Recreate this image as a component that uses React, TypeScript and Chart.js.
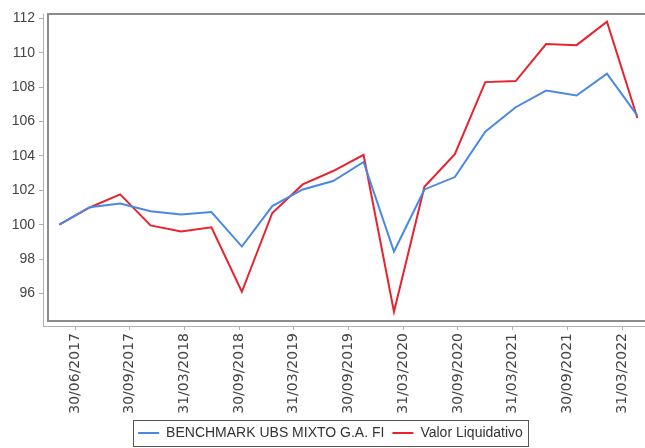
import React, { useEffect, useRef } from 'react';
import { Chart, registerables } from 'chart.js';

Chart.register(...registerables);

// Quarter-end dates of the data points
const quarters = [
  '30/06/2017', '30/09/2017', '31/12/2017', '31/03/2018', '30/06/2018',
  '30/09/2018', '31/12/2018', '31/03/2019', '30/06/2019', '30/09/2019',
  '31/12/2019', '31/03/2020', '30/06/2020', '30/09/2020', '31/12/2020',
  '31/03/2021', '30/06/2021', '30/09/2021', '31/12/2021', '31/03/2022',
];

const benchmark = [
  100.0, 101.02, 101.23, 100.78, 100.59, 100.74, 98.73, 101.08, 102.05, 102.54,
  103.65, 98.44, 102.05, 102.77, 105.41, 106.83, 107.8, 107.51, 108.78, 106.34,
];

const valorLiquidativo = [
  100.0, 101.0, 101.76, 99.96, 99.61, 99.85, 96.1, 100.68, 102.34, 103.12,
  104.06, 94.94, 102.2, 104.1, 108.29, 108.35, 110.5, 110.44, 111.8, 106.2,
];

// Axis tick labels as printed under the chart
const axisLabels = [
  '30/06/2017', '30/09/2017', '31/03/2018', '30/09/2018', '31/03/2019',
  '30/09/2019', '31/03/2020', '30/09/2020', '31/03/2021', '30/09/2021', '31/03/2022',
];

const yTicks = [96, 98, 100, 102, 104, 106, 108, 110, 112];

const seriesNames = ['BENCHMARK UBS MIXTO G.A. FI', 'Valor Liquidativo'];

const FONT = 'Liberation Sans, Arial, sans-serif';
const XFONT = 'DejaVu Sans, sans-serif';

const LEGEND_DX = 8;
const LEGEND_DY = 2;

const plotFrame = {
  id: 'plotFrame',
  afterUpdate(chart: any) {
    const lg = chart.legend;
    if (!lg) return;
    lg.left += LEGEND_DX;
    lg.right += LEGEND_DX;
    lg.top += LEGEND_DY;
    lg.bottom += LEGEND_DY;
    (lg.legendHitBoxes || []).forEach((h: any) => {
      h.left += LEGEND_DX;
      h.top += LEGEND_DY;
    });
  },
  afterDraw(chart: any) {
    const { ctx, chartArea } = chart;
    ctx.save();
    ctx.strokeStyle = '#8c8c8c';
    ctx.lineWidth = 2;
    ctx.strokeRect(chartArea.left + 5, chartArea.top, chartArea.right - chartArea.left - 4, chartArea.bottom - chartArea.top - 5);
    ctx.restore();

    const legend = chart.legend;
    if (legend && legend.legendHitBoxes && legend.legendHitBoxes.length) {
      const boxes = legend.legendHitBoxes;
      let l = Infinity, r = -Infinity, t = Infinity, b = -Infinity;
      boxes.forEach((h: any) => {
        l = Math.min(l, h.left);
        r = Math.max(r, h.left + h.width);
        t = Math.min(t, h.top);
        b = Math.max(b, h.top + h.height);
      });
      ctx.save();
      ctx.strokeStyle = '#555';
      ctx.lineWidth = 1;
      ctx.strokeRect(Math.round(l - 5) + 0.5, Math.round(t - 6) + 0.5, Math.round(r - l + 10), Math.round(b - t + 12));
      ctx.restore();
    }
  },
};

export default function App() {
  const ref = useRef<HTMLCanvasElement>(null);

  useEffect(() => {
    document.body.style.margin = '0';
    const canvas = ref.current;
    if (!canvas) return;
    const chart = new Chart(canvas, {
      type: 'line',
      data: {
        datasets: [
          {
            label: seriesNames[0],
            data: benchmark.map((v, i) => ({ x: i, y: v, d: quarters[i] })) as any,
            borderColor: '#4a88e6',
            backgroundColor: '#4a88e6',
            borderWidth: 2,
            pointRadius: 0,
            tension: 0,
            xAxisID: 'x',
          },
          {
            label: seriesNames[1],
            data: valorLiquidativo.map((v, i) => ({ x: i, y: v, d: quarters[i] })) as any,
            borderColor: '#e8232e',
            backgroundColor: '#e8232e',
            borderWidth: 2,
            pointRadius: 0,
            tension: 0,
            xAxisID: 'x',
          },
        ],
      },
      options: {
        animation: false,
        responsive: false,
        devicePixelRatio: 1,
        layout: { padding: { top: 14, right: 0, left: 0, bottom: 0 } },
        plugins: {
          tooltip: { enabled: false },
          legend: {
            position: 'bottom',
            labels: {
              usePointStyle: true,
              pointStyle: 'line',
              pointStyleWidth: 21,
              padding: 8,
              color: '#333',
              font: { family: FONT, size: 14 },
            },
          },
        },
        scales: {
          x: {
            type: 'linear',
            display: false,
            min: -0.536,
            max: 19.25,
          },
          xl: {
            type: 'linear',
            position: 'bottom',
            min: -0.585,
            max: 10.42,
            afterBuildTicks: (s: any) => {
              s.ticks = axisLabels.map((_, i) => ({ value: i }));
            },
            afterFit: (s: any) => {
              s.height = 90;
            },
            ticks: {
              autoSkip: false,
              minRotation: 90,
              maxRotation: 90,
              padding: 3,
              color: '#444',
              font: { family: XFONT, size: 14 },
              callback: (_v: any, i: number) => axisLabels[i],
            },
            grid: { drawOnChartArea: false, tickLength: 4, color: '#b0b0b0' },
            border: { color: '#b0b0b0' },
          },
          y: {
            type: 'linear',
            min: 94.11,
            max: 112.25,
            afterBuildTicks: (s: any) => {
              s.ticks = yTicks.map((v) => ({ value: v }));
            },
            afterFit: (s: any) => {
              s.width = 43;
            },
            ticks: {
              padding: 4,
              color: '#444',
              font: { family: FONT, size: 14 },
            },
            grid: { drawOnChartArea: false, tickLength: 4, color: '#b0b0b0' },
            border: { color: '#b0b0b0' },
          },
        },
      },
      plugins: [plotFrame],
    } as any);
    return () => chart.destroy();
  }, []);

  return (
    <div style={{ width: 645, height: 448 }}>
      <canvas ref={ref} width={645} height={448} />
    </div>
  );
}
